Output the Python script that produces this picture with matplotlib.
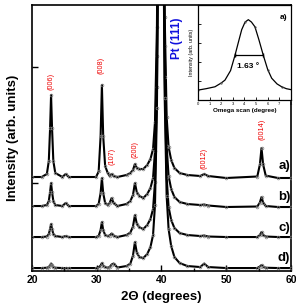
import matplotlib
matplotlib.use("Agg")
import matplotlib.pyplot as plt

# ---------------- data ----------------
two_theta = [20, 21.5, 22.3, 22.6, 22.8, 22.95, 23.1, 23.3, 23.6, 24.7, 25.2, 25.7,
             29.9, 30.3, 30.6, 30.8, 31.0, 31.3, 31.7, 32.0, 32.3, 32.6, 33.2,
             34.6, 35.2, 35.6, 35.9, 36.2, 36.6, 37.2, 37.8, 38.3, 38.7, 39.0,
             39.3, 39.6, 39.9, 40.2, 40.5, 40.8, 41.1, 41.5, 42.0, 42.8, 44.0,
             46.0, 46.6, 47.2, 50.0, 54.8, 55.2, 55.45, 55.7, 56.1, 58.0, 60.0]

series_a = [94, 94, 97, 110, 143, 176, 143, 110, 98, 94, 97, 94,
            94, 99.5, 135, 186, 135, 105, 98, 95, 97, 95, 94,
            96, 98, 101, 107, 103, 102, 102, 106, 112, 122, 149,
            244, 494, 1594, 494, 254, 154, 124, 111, 103, 98, 96,
            95, 97, 95, 93, 94.5, 106.5, 123, 106.5, 95.4, 93, 93]

series_b = [65, 65, 66, 70, 79, 88, 79, 70, 66, 65, 68, 65,
            65, 67, 78, 93, 78, 68, 66, 68, 73, 68, 65,
            67, 70, 76, 88, 78.5, 75, 73, 77, 83, 93, 120,
            215, 465, 1565, 465, 225, 125, 95, 82, 74, 69, 67,
            66, 66.5, 65.5, 64, 64.5, 68.5, 74, 68.5, 65, 64, 64]

series_c = [34, 34, 34.5, 37, 42, 47, 42, 37, 35, 34, 35, 34,
            34, 35, 41, 49, 41, 36, 35, 35.5, 37.5, 35.5, 34,
            36, 38.5, 44.5, 56, 47, 43.6, 42, 46, 52, 62, 89,
            184, 434, 1534, 434, 194, 94, 64, 51, 43, 38, 36,
            35, 35.5, 34.5, 34, 34, 36, 39, 36, 34.5, 34, 34]

series_d = [3, 3, 3.3, 4, 5.7, 7.5, 5.7, 4, 3.3, 3, 3, 3,
            3, 3.5, 5.5, 8, 5.5, 4, 3.3, 4, 6.5, 7.5, 3.5,
            5, 7.5, 15.5, 29, 18, 14, 13, 17, 24, 36, 66,
            163, 413, 1513, 413, 173, 75, 42, 25, 14, 8, 5,
            4, 7.5, 4, 3, 3, 4.5, 6, 4.5, 3.3, 3, 3]

series_names = ["a)", "b)", "c)", "d)"]
series_label_y = [105, 74, 43, 13]

peak_labels = ["(006)", "(008)", "(107)", "(200)", "(0012)", "(0014)"]
peak_label_x = [22.9, 30.7, 32.3, 35.9, 46.6, 55.5]
peak_label_y = [190, 206, 115, 121, 113, 142]

x_ticks = [20, 30, 40, 50, 60]
y_ticks = [88, 204]

# inset (omega scan)
omega = [0.0, 0.7, 1.46, 2.0, 2.32, 2.8, 3.18, 3.5, 3.76, 4.05, 4.33, 4.6, 4.9,
         5.25, 5.62, 6.0, 6.34, 6.8, 7.2, 7.6, 8.0]
omega_int = [0.105, 0.12, 0.14, 0.18, 0.21, 0.31, 0.47, 0.62, 0.74, 0.82, 0.845,
             0.82, 0.77, 0.63, 0.47, 0.32, 0.23, 0.17, 0.14, 0.12, 0.11]
fwhm_left, fwhm_right, fwhm_level = 3.18, 5.62, 0.47
omega_ticks = [0, 1, 2, 3, 4, 5, 6, 7, 8]

# ---------------- figure ----------------
plt.rcParams['font.family'] = ['Liberation Sans', 'DejaVu Sans']
fig = plt.figure(figsize=(2.96, 3.08), dpi=100)
ax = fig.add_axes([0.108, 0.120, 0.875, 0.864])

for ys in (series_a, series_b, series_c, series_d):
    ax.plot(two_theta, ys, color='black', lw=1.5, marker='o', ms=2.0,
            mfc='none', mec='0.5', mew=0.5, zorder=3)

ax.set_xlim(20, 60)
ax.set_ylim(0, 266)
ax.set_xticks(x_ticks)
ax.set_xticks([25, 35, 45, 55], minor=True)
ax.set_yticks(y_ticks)
ax.set_yticklabels([])
ax.tick_params(axis='both', which='both', direction='in', width=1.0)
ax.tick_params(axis='x', which='major', length=4, labelsize=7.5, pad=3)
ax.tick_params(axis='x', which='minor', length=2.5)
ax.tick_params(axis='y', length=4)
for lab in ax.get_xticklabels():
    lab.set_fontweight('bold')
for sp in ax.spines.values():
    sp.set_linewidth(1.2)

ax.set_xlabel("2Θ (degrees)", fontsize=9.5, fontweight='bold', labelpad=4)
ax.set_ylabel("Intensity (arb. units)", fontsize=9.5, fontweight='bold', labelpad=6)

for name, yy in zip(series_names, series_label_y):
    ax.text(59.9, yy, name, ha='right', va='center', fontsize=9.5, fontweight='bold')

for lab, xx, yy in zip(peak_labels, peak_label_x, peak_label_y):
    ax.text(xx, yy, lab, rotation=90, ha='center', va='center', fontsize=5.2,
            color='#ee0000', zorder=4)

ax.text(42.4, 233, "Pt (111)", rotation=90, ha='center', va='center',
        fontsize=8.5, fontweight='bold', color='#1010dd')

# inset
ins = fig.add_axes([0.669, 0.675, 0.314, 0.309])
ins.plot(omega, omega_int, color='black', lw=0.9, marker='o', ms=1.2, mfc='none',
         mec='0.3', mew=0.4, markevery=3)
ins.plot([fwhm_left, fwhm_right], [fwhm_level, fwhm_level], color='black', lw=0.9,
         marker='|', ms=3)
ins.text(4.3, 0.35, "1.63 °", ha='center', va='center', fontsize=6, fontweight='bold')
ins.text(7.4, 0.87, "a)", ha='center', va='center', fontsize=6, fontweight='bold')
ins.set_xlim(0, 8)
ins.set_ylim(0, 1)
ins.set_xticks(omega_ticks)
ins.set_yticks([0.2, 0.4, 0.6, 0.8])
ins.set_yticklabels([])
ins.tick_params(direction='in', length=2, width=0.6, labelsize=3, pad=1.5)
ins.set_xlabel("Omega scan (degree)", fontsize=4.5, fontweight='bold', labelpad=1.5)
ins.set_ylabel("Intensity (arb. units)", fontsize=3.8, labelpad=1.5)
for sp in ins.spines.values():
    sp.set_linewidth(0.9)

fig.savefig("out.png", dpi=100)
